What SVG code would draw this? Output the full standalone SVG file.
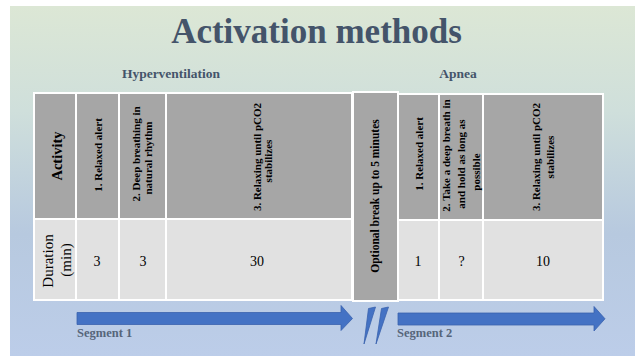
<svg xmlns="http://www.w3.org/2000/svg" width="635" height="356" viewBox="0 0 635 356">
<defs>
<linearGradient id="bg" x1="0" y1="0" x2="0" y2="1">
<stop offset="0" stop-color="#dce7d5"/>
<stop offset="0.3" stop-color="#cfdfdb"/>
<stop offset="0.65" stop-color="#b7c9df"/>
<stop offset="1" stop-color="#bccde9"/>
</linearGradient>
<style>
.hd{fill:#a6a6a6;stroke:#ffffff;stroke-width:2}
.dt{fill:#e1e1e1;stroke:#ffffff;stroke-width:2}
.t{font-family:"Liberation Serif","Times New Roman",serif;fill:#000}
.hb{font-weight:bold;font-size:11px;text-anchor:middle}
.num{font-size:14px;text-anchor:middle}
.ttl{font-family:"Liberation Serif","Times New Roman",serif;font-weight:bold;fill:#44546a;text-anchor:middle}
.seg{font-family:"Liberation Serif","Times New Roman",serif;font-weight:bold;font-size:12.5px;fill:#56657a}
.arr{fill:#4472c4;stroke:#3a62ad;stroke-width:0.8}
</style>
</defs>
<rect x="0" y="0" width="635" height="356" fill="#ffffff"/>
<rect x="10" y="6" width="625" height="350" fill="url(#bg)"/>

<g id="title">
<text class="ttl" x="316.5" y="43" font-size="35">Activation methods</text>
<text class="ttl" x="171" y="78" font-size="13.5">Hyperventilation</text>
<text class="ttl" x="458" y="78" font-size="13.5">Apnea</text>
</g>

<g id="hyperventilation-table">
<rect class="hd" x="34" y="93" width="42" height="126"/>
<rect class="hd" x="76" y="93" width="43" height="126"/>
<rect class="hd" x="119" y="93" width="47" height="126"/>
<rect class="hd" x="166" y="93" width="186" height="126"/>
<rect class="dt" x="34" y="219" width="42" height="81"/>
<rect class="dt" x="76" y="219" width="43" height="81"/>
<rect class="dt" x="119" y="219" width="47" height="81"/>
<rect class="dt" x="166" y="219" width="186" height="81"/>
<text class="t" transform="translate(62,156) rotate(-90)" font-weight="bold" font-size="14.5" text-anchor="middle">Activity</text>
<text class="t hb" transform="translate(101.5,155) rotate(-90)">1.  Relaxed alert</text>
<text class="t hb" transform="translate(139.5,154) rotate(-90)">2.  Deep breathing in</text>
<text class="t hb" transform="translate(151.5,158) rotate(-90)">natural rhythm</text>
<text class="t hb" transform="translate(260.5,157) rotate(-90)">3.  Relaxing until pCO2</text>
<text class="t hb" transform="translate(271.5,161) rotate(-90)">stabilizes</text>
<text class="t" transform="translate(53,261) rotate(-90)" font-size="15" text-anchor="middle">Duration</text>
<text class="t" transform="translate(71,260) rotate(-90)" font-size="15" text-anchor="middle">(min)</text>
<text class="t num" x="97" y="266">3</text>
<text class="t num" x="143" y="266">3</text>
<text class="t num" x="257" y="266">30</text>
</g>

<g id="break-column">
<rect class="hd" x="353" y="92" width="45" height="209"/>
<text class="t" transform="translate(379,196) rotate(-90)" font-weight="bold" font-size="11.5" text-anchor="middle">Optional break up to 5 minutes</text>
</g>

<g id="apnea-table">
<rect class="hd" x="398" y="94" width="41" height="126"/>
<rect class="hd" x="439" y="94" width="44" height="126"/>
<rect class="hd" x="483" y="94" width="120" height="126"/>
<rect class="dt" x="398" y="220" width="41" height="80"/>
<rect class="dt" x="439" y="220" width="44" height="80"/>
<rect class="dt" x="483" y="220" width="120" height="80"/>
<text class="t hb" transform="translate(422.5,154) rotate(-90)">1.  Relaxed alert</text>
<text class="t hb" transform="translate(449.5,155.5) rotate(-90)">2.  Take a deep breath in</text>
<text class="t hb" transform="translate(465,164) rotate(-90)">and hold as long as</text>
<text class="t hb" transform="translate(479.5,172) rotate(-90)">possible</text>
<text class="t hb" transform="translate(540,157) rotate(-90)">3.  Relaxing until pCO2</text>
<text class="t hb" transform="translate(554,157) rotate(-90)">stabilizes</text>
<text class="t num" x="418" y="266">1</text>
<text class="t num" x="461.5" y="266">?</text>
<text class="t num" x="543" y="266">10</text>
</g>

<g id="connectors">
<polygon class="arr" points="77,312.5 341,312.5 341,305.5 352.5,318.5 341,330.5 341,324.5 77,324.5"/>
<polygon class="arr" points="398,313 594,313 594,306.5 605,318.8 594,331 594,325 398,325"/>
<polygon class="arr" points="368.5,308.5 375.5,307 364,344"/>
<polygon class="arr" points="381.5,308.5 388.5,307 376,344"/>
</g>

<g id="segment-labels">
<text class="seg" x="77" y="337">Segment 1</text>
<text class="seg" x="397" y="337">Segment 2</text>
</g>
</svg>
